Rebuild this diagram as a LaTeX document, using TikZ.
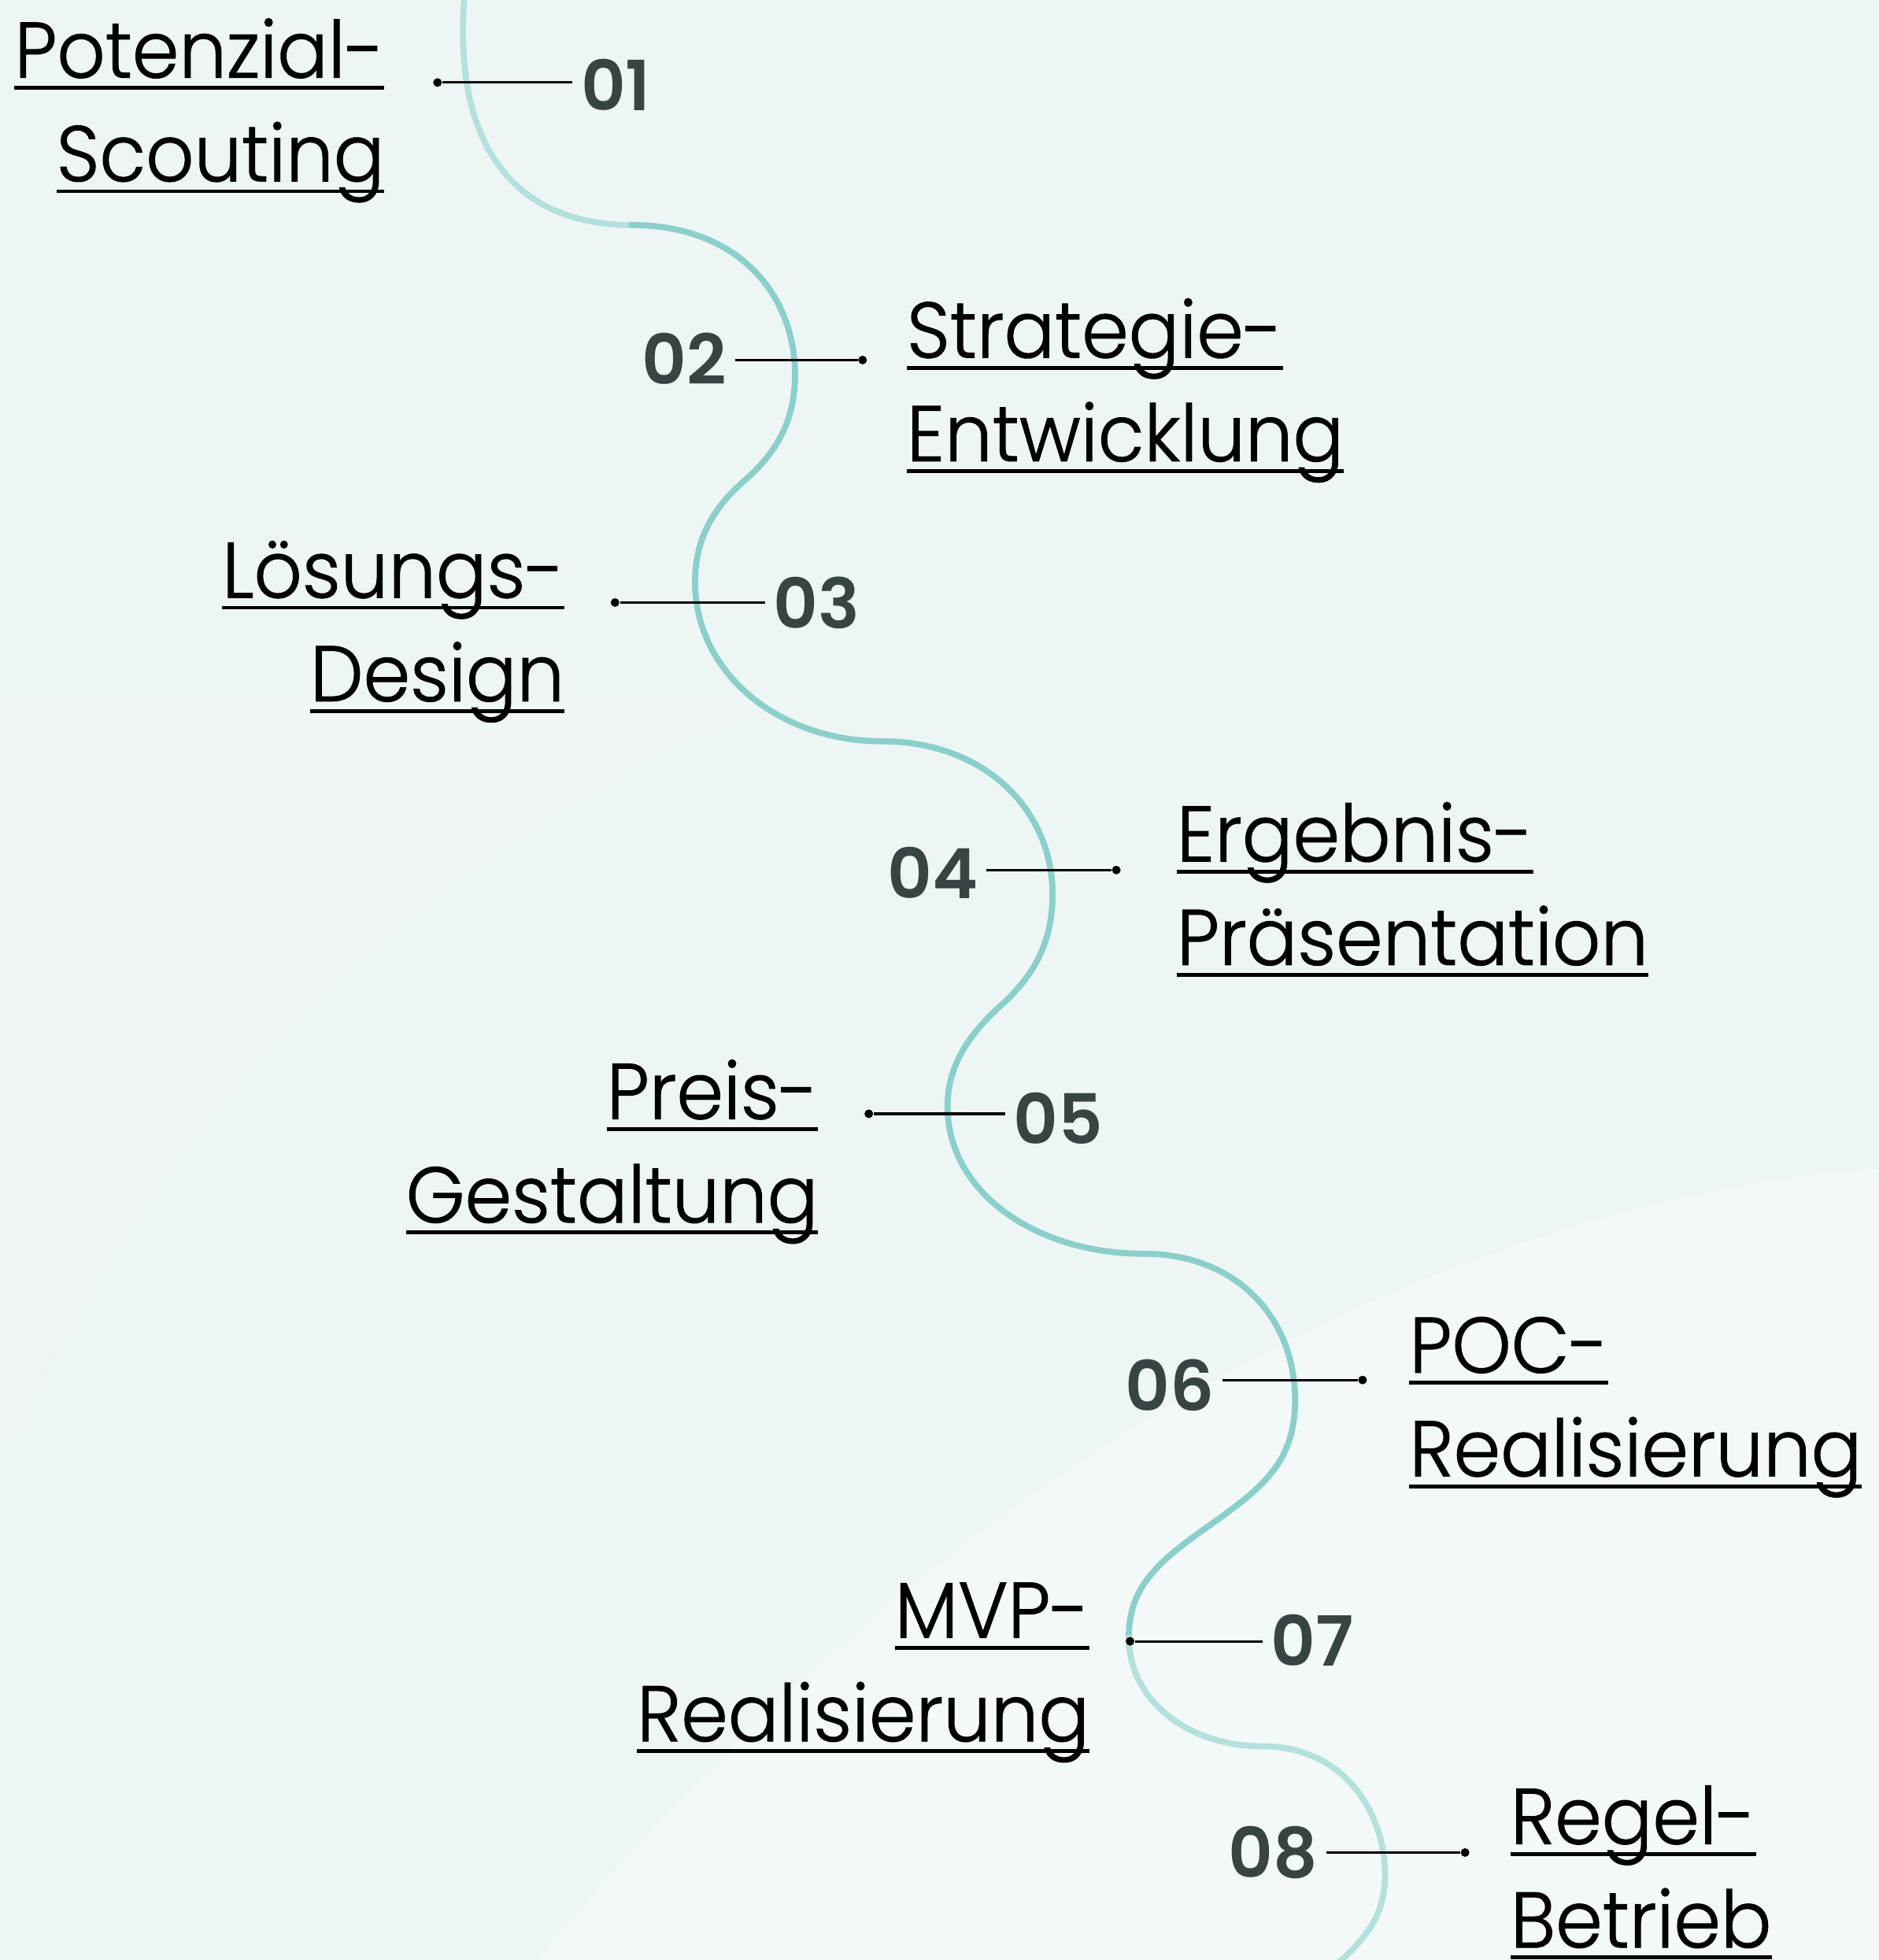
\documentclass[tikz,border=0pt]{standalone}
\usepackage{fontspec}
\usetikzlibrary{positioning}

\newfontfamily\lblfont{Poppins Light}[FakeStretch=0.955, FakeBold=1]
\newfontfamily\numfont{Poppins SemiBold}

\definecolor{bgcol}{HTML}{EEF6F5}
\definecolor{curvecol}{HTML}{8BCFCA}
\definecolor{curvelight}{HTML}{B4E0DD}
\definecolor{numcol}{HTML}{374443}

\newlength\ulw
\newcommand\ulx[1]{\settowidth\ulw{#1}\rlap{\rule[-0.151cm]{\ulw}{0.048cm}}#1}

\tikzset{
    dot/.style={circle, fill=black, minimum size=0.11cm, inner sep=0pt},
    conn/.style={black, line width=0.9pt},
    num/.style={text=numcol, font=\numfont\fontsize{25}{30}\selectfont, inner xsep=0.1cm, inner ysep=0pt},
    lbl/.style={text=black, font=\lblfont\fontsize{28.5}{37.4}\selectfont, inner sep=0pt},
    lblleft/.style={lbl, align=right, anchor=base east},
    lblright/.style={lbl, align=left, anchor=base west},
    wave/.style={curvecol, line width=2.2pt, line cap=round}
}

\begin{document}
\begin{tikzpicture}[x=0.015875cm, y=-0.015875cm]
    	\fill[bgcol] (0, 0) rectangle (1503, 1568);
    	\useasboundingbox (0, 0) rectangle (1503, 1568);
    	\fill[white, opacity=0.3] (430, 1568) .. controls (800, 1120) and (1200, 960) .. (1503, 935) -- (1503, 1568) -- cycle;
    	\fill[white, opacity=0.2] (0, 1170) .. controls (120, 880) and (330, 680) .. (620, 560) -- (0, 560) -- cycle;
    	\draw[wave, curvelight] (372, -8) .. controls (360, 120) and (415, 180) .. (505, 180);
    	\draw[wave] (505, 180)
    		.. controls (590, 180) and (636, 235) .. (636, 300) .. controls (636, 340) and (618, 365) .. (595, 385)
    		.. controls (572, 405) and (556, 430) .. (556, 465) .. controls (556, 540) and (625, 593) .. (705, 593)
    		.. controls (790, 593) and (842, 650) .. (842, 715) .. controls (842, 760) and (822, 785) .. (800, 805)
    		.. controls (778, 825) and (758, 850) .. (758, 885) .. controls (758, 955) and (830, 1003) .. (915, 1003)
    		.. controls (990, 1003) and (1036, 1055) .. (1036, 1120) .. controls (1036, 1170) and (1010, 1190) .. (968, 1220)
    		.. controls (925, 1250) and (903, 1270) .. (903, 1310);
    	\draw[wave, curvelight] (903, 1310) .. controls (903, 1360) and (950, 1397) .. (1010, 1397)
    		.. controls (1075, 1397) and (1108, 1450) .. (1108, 1500) .. controls (1108, 1530) and (1095, 1550) .. (1065, 1575);
    	\node[dot] (d1) at (350, 66) {};
    	\node[dot] (d2) at (690, 288) {};
    	\node[dot] (d3) at (492, 482) {};
    	\node[dot] (d4) at (893, 696) {};
    	\node[dot] (d5) at (695, 891) {};
    	\node[dot] (d6) at (1090, 1104) {};
    	\node[dot] (d7) at (904, 1313) {};
    	\node[dot] (d8) at (1172, 1482) {};
    	\node[num, anchor=west] (n1) at (458, 68) {01};
    	\node[num, anchor=east] (n2) at (588, 287) {02};
    	\node[num, anchor=west] (n3) at (612, 482) {03};
    	\node[num, anchor=east] (n4) at (789, 698) {04};
    	\node[num, anchor=west] (n5) at (804, 895) {05};
    	\node[num, anchor=east] (n6) at (978, 1108) {06};
    	\node[num, anchor=west] (n7) at (1010, 1312) {07};
    	\node[num, anchor=east] (n8) at (1061, 1482) {08};
    	\draw[conn] (d1) -- (d1 -| n1.west);
    	\draw[conn] (d2) -- (d2 -| n2.east);
    	\draw[conn] (d3) -- (d3 -| n3.west);
    	\draw[conn] (d4) -- (d4 -| n4.east);
    	\draw[conn] (d5) -- (d5 -| n5.west);
    	\draw[conn] (d6) -- (d6 -| n6.east);
    	\draw[conn] (d7) -- (d7 -| n7.west);
    	\draw[conn] (d8) -- (d8 -| n8.east);
    	\node[lblleft] (l1) at (308, 145) {\ulx{Potenzial-}\\\ulx{Scouting}};
    	\node[lblright] (l2) at (725, 369) {\ulx{Strategie-}\\\ulx{Entwicklung}};
    	\node[lblleft] (l3) at (452, 561) {\ulx{Lösungs-}\\\ulx{Design}};
    	\node[lblright] (l4) at (941, 772) {\ulx{Ergebnis-}\\\ulx{Präsentation}};
    	\node[lblleft] (l5) at (655, 978) {\ulx{Preis-}\\\ulx{Gestaltung}};
    	\node[lblright] (l6) at (1127, 1181) {\ulx{POC-}\\\ulx{Realisierung}};
    	\node[lblleft] (l7) at (872, 1393) {\ulx{MVP-}\\\ulx{Realisierung}};
    	\node[lblright] (l8) at (1208, 1558) {\ulx{Regel-}\\\ulx{Betrieb}};
\end{tikzpicture}
\end{document}
